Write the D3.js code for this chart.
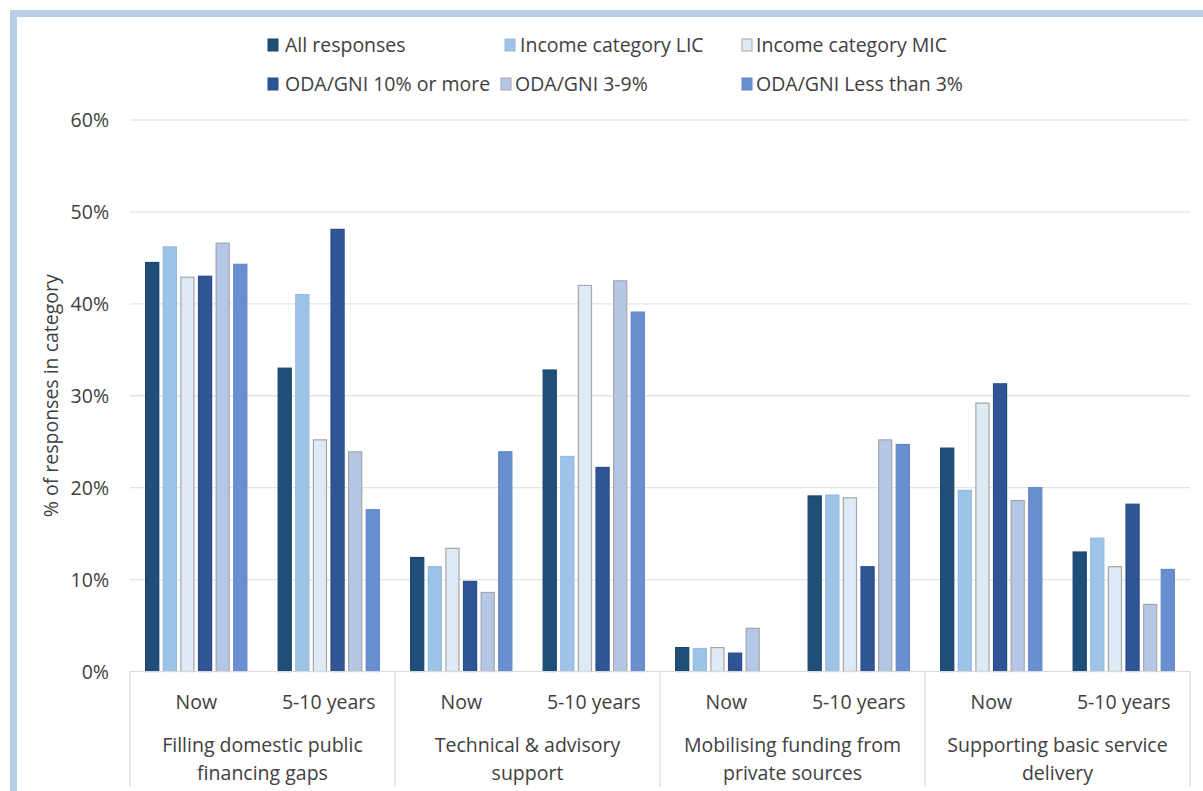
<!DOCTYPE html>
<html>
<head>
<meta charset="utf-8">
<script src="https://cdn.jsdelivr.net/npm/d3@7"></script>
<style>
  html, body { margin: 0; padding: 0; background: #ffffff; }
  svg { display: block; }
  text { font-family: "Open Sans", "Noto Sans", sans-serif; fill: #404040; }
</style>
</head>
<body>
<svg id="chart" width="1203" height="791"></svg>
<script>
// ---- Data ----
const categoryLines = [
  ["Filling domestic public", "financing gaps"],
  ["Technical & advisory", "support"],
  ["Mobilising funding from", "private sources"],
  ["Supporting basic service", "delivery"]
];
const periods = ["Now", "5-10 years"];
const seriesNames = [
  "All responses",
  "Income category LIC",
  "Income category MIC",
  "ODA/GNI 10% or more",
  "ODA/GNI 3-9%",
  "ODA/GNI Less than 3%"
];
// values (%) in order: cat1 Now, cat1 5-10, cat2 Now, cat2 5-10, ...
const allResponses = [44.5, 33.0, 12.4, 32.8, 2.6, 19.1, 24.3, 13.0];
const incomeLIC    = [46.2, 41.0, 11.4, 23.4, 2.5, 19.2, 19.7, 14.5];
const incomeMIC    = [42.9, 25.2, 13.4, 42.0, 2.6, 18.9, 29.2, 11.4];
const oda10More    = [43.0, 48.1, 9.8, 22.2, 2.0, 11.4, 31.3, 18.2];
const oda3to9      = [46.6, 23.9, 8.6, 42.5, 4.7, 25.2, 18.6, 7.3];
const odaLess3     = [44.3, 17.6, 23.9, 39.1, 0.0, 24.7, 20.0, 11.1];
const yTicks = [0, 10, 20, 30, 40, 50, 60];

const seriesValues = [allResponses, incomeLIC, incomeMIC, oda10More, oda3to9, odaLess3];
const fills   = ["#1f4e79", "#9dc3e6", "#deebf7", "#2f5597", "#b4c7e7", "#6a8fd1"];
const strokes = ["#1a446b", "#93bbe0", "#a6a6a6", "#2a4d89", "#a6a6a6", "#6186c8"];

// ---- Layout ----
const svg = d3.select("#chart");
const plotLeft = 130, plotRight = 1190, plotTop = 120, plotBase = 671.5;

// frame
svg.append("rect").attr("x", 13.5).attr("y", 13.5).attr("width", 1300).attr("height", 900)
  .attr("fill", "none").attr("stroke", "#bccde7").attr("stroke-width", 7);

const y = d3.scaleLinear().domain([0, 60]).range([plotBase, plotTop]);
const xCat = d3.scaleBand().domain(d3.range(categoryLines.length)).range([plotLeft, plotRight]);
const xPer = d3.scaleBand().domain(periods).range([0, xCat.bandwidth()]);
const xSer = d3.scaleBand().domain(seriesNames).range([0, xPer.bandwidth()])
  .paddingInner(0.2).paddingOuter(0.86);

// gridlines
svg.append("g").selectAll("line").data(yTicks.filter(d => d > 0)).join("line")
  .attr("x1", plotLeft).attr("x2", plotRight)
  .attr("y1", d => y(d)).attr("y2", d => y(d))
  .attr("stroke", "#e3e3e3").attr("stroke-width", 1.3);

// y tick labels
const yAxis = d3.axisLeft(y).tickValues(yTicks).tickFormat(d => d + "%").tickSize(0).tickPadding(0);
const yg = svg.append("g").attr("transform", "translate(109,0)").call(yAxis);
yg.select(".domain").remove();
yg.selectAll("text").attr("font-size", 19.5).attr("fill", "#595959")
  .attr("font-family", "'Open Sans', sans-serif").attr("dy", "0.35em");

// y title
svg.append("text")
  .attr("transform", `translate(58,${(plotBase + 120) / 2}) rotate(-90)`)
  .attr("text-anchor", "middle").attr("font-size", 19.5).attr("fill", "#595959")
  .text("% of responses in category");

// bars
const barData = [];
seriesValues.forEach((vals, si) => {
  vals.forEach((v, i) => {
    barData.push({ s: si, cat: Math.floor(i / 2), per: periods[i % 2], v });
  });
});
svg.append("g").selectAll("rect").data(barData.filter(d => d.v > 0)).join("rect")
  .attr("x", d => xCat(d.cat) + xPer(d.per) + xSer(seriesNames[d.s]) + 0.5)
  .attr("width", xSer.bandwidth() - 1)
  .attr("y", d => y(d.v))
  .attr("height", d => plotBase - y(d.v))
  .attr("fill", d => fills[d.s])
  .attr("stroke", d => strokes[d.s]).attr("stroke-width", 1.2);

// x axis baseline
svg.append("line").attr("x1", plotLeft).attr("x2", plotRight).attr("y1", plotBase).attr("y2", plotBase)
  .attr("stroke", "#d9d9d9").attr("stroke-width", 1.2);

// separators
const seps = d3.range(categoryLines.length + 1).map(i => plotLeft + i * xCat.bandwidth());
svg.append("g").selectAll("line").data(seps).join("line")
  .attr("x1", d => d).attr("x2", d => d).attr("y1", plotBase).attr("y2", 787)
  .attr("stroke", "#d9d9d9").attr("stroke-width", 1.2);

// period labels
const perLabels = [];
categoryLines.forEach((c, ci) => periods.forEach(p => perLabels.push({ ci, p })));
svg.append("g").selectAll("text").data(perLabels).join("text")
  .attr("x", d => xCat(d.ci) + xPer(d.p) + xPer.bandwidth() / 2)
  .attr("y", 709).attr("text-anchor", "middle").attr("font-size", 19.5)
  .text(d => d.p);

// category labels
const cg = svg.append("g").selectAll("text").data(categoryLines).join("text")
  .attr("x", (d, i) => xCat(i) + xCat.bandwidth() / 2)
  .attr("y", 752).attr("text-anchor", "middle").attr("font-size", 19.5);
cg.selectAll("tspan").data(d => d).join("tspan")
  .attr("x", function () { return d3.select(this.parentNode).attr("x"); })
  .attr("dy", (d, i) => i === 0 ? 0 : 28)
  .text(d => d);

// legend
const legendPos = [
  { sx: 268, tx: 285, y: 45 }, { sx: 505, tx: 520, y: 45 }, { sx: 742, tx: 756, y: 45 },
  { sx: 268, tx: 285, y: 84 }, { sx: 501, tx: 515, y: 84 }, { sx: 742, tx: 756, y: 84 }
];
const lg = svg.append("g").selectAll("g").data(seriesNames).join("g");
lg.append("rect")
  .attr("x", (d, i) => legendPos[i].sx).attr("y", (d, i) => legendPos[i].y - 6)
  .attr("width", 10).attr("height", 12)
  .attr("fill", (d, i) => fills[i]).attr("stroke", (d, i) => strokes[i]).attr("stroke-width", 1);
lg.append("text")
  .attr("x", (d, i) => legendPos[i].tx).attr("y", (d, i) => legendPos[i].y)
  .attr("dy", "0.35em").attr("font-size", 19.5)
  .text(d => d);
</script>
</body>
</html>
